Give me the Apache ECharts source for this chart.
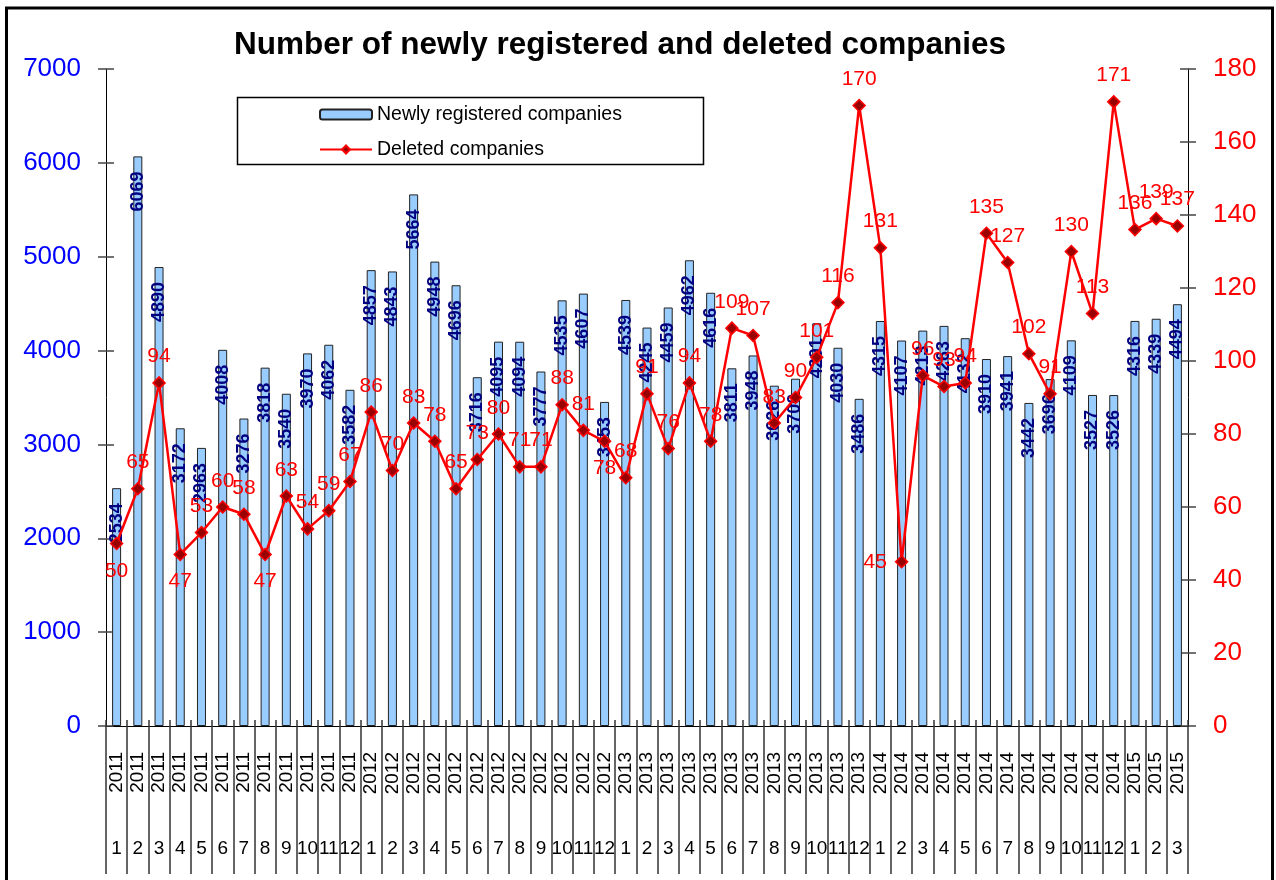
<!DOCTYPE html>
<html>
<head>
<meta charset="utf-8">
<script src="https://cdn.jsdelivr.net/npm/echarts@6/dist/echarts.min.js"></script>
<style>
html,body{margin:0;padding:0;background:#fff;overflow:hidden;}
#chart{width:1276px;height:880px;}
</style>
</head>
<body>
<div id="chart"></div>
<script>
// ---- data ----
const years  = ['2011','2011','2011','2011','2011','2011','2011','2011','2011','2011','2011','2011',
                '2012','2012','2012','2012','2012','2012','2012','2012','2012','2012','2012','2012',
                '2013','2013','2013','2013','2013','2013','2013','2013','2013','2013','2013','2013',
                '2014','2014','2014','2014','2014','2014','2014','2014','2014','2014','2014','2014',
                '2015','2015','2015'];
const months = ['1','2','3','4','5','6','7','8','9','10','11','12',
                '1','2','3','4','5','6','7','8','9','10','11','12',
                '1','2','3','4','5','6','7','8','9','10','11','12',
                '1','2','3','4','5','6','7','8','9','10','11','12',
                '1','2','3'];
const newlyRegistered = [2534,6069,4890,3172,2963,4008,3276,3818,3540,3970,4062,3582,
                         4857,4843,5664,4948,4696,3716,4095,4094,3777,4535,4607,3453,
                         4539,4245,4459,4962,4616,3811,3948,3626,3700,4291,4030,3486,
                         4315,4107,4213,4263,4132,3910,3941,3442,3696,4109,3527,3526,
                         4316,4339,4494];
const deleted = [50,65,94,47,53,60,58,47,63,54,59,67,
                 86,70,83,78,65,73,80,71,71,88,81,78,
                 68,91,76,94,78,109,107,83,90,101,116,170,
                 131,45,96,93,94,135,127,102,91,130,113,171,
                 136,139,137];
const leftTicks = [0,1000,2000,3000,4000,5000,6000,7000];
const rightTicks = [0,20,40,60,80,100,120,140,160,180];

const categories = years.map((y,i)=>y+'-'+months[i]);
const FONT = 'Liberation Sans, Arial, Helvetica, sans-serif';

// label placement tweaks (style only)
const belowIdx = [0,3,7,23];
const leftIdx = [37];
const lineData = deleted.map((v,i)=>{
  const o = {value:v};
  if (belowIdx.includes(i)) o.label = {position:'bottom', distance:10};
  if (leftIdx.includes(i)) o.label = {position:'left', distance:8};
  return o;
});

const chart = echarts.init(document.getElementById('chart'), null, {renderer:'canvas'});
const yBase = (pos, ticks, color, inside) => ({
  type:'value', position:pos, min:ticks[0], max:ticks[ticks.length-1],
  interval: ticks[1]-ticks[0],
  axisLine:{show:!inside, lineStyle:{color:'#000', width:1}},
  axisTick:{show:true, inside:inside, length:8, lineStyle:{color:'#444', width:1.5}},
  axisLabel:{show:!inside, color:color, fontSize:26, fontFamily:FONT, margin:25,
    formatter:(v)=>String(v)},
  splitLine:{show:false}
});
const option = {
  animation:false,
  backgroundColor:'#fff',
  title:{
    text:'Number of newly registered and deleted companies',
    left:229, top:24,
    textStyle:{fontSize:31.5, fontWeight:'bold', color:'#000', fontFamily:FONT}
  },
  legend:{
    orient:'vertical', left:314, top:99,
    itemWidth:52, itemHeight:10, itemGap:14,
    textStyle:{fontSize:19.5, color:'#000', fontFamily:FONT, lineHeight:21},
    data:['Newly registered companies','Deleted companies']
  },
  grid:{left:106, right:88, top:69, bottom:154, containLabel:false},
  xAxis:[
    {type:'category', data:categories, position:'bottom', offset:0,
     axisLine:{show:true, lineStyle:{color:'#000', width:1}},
     axisTick:{show:true, interval:0, length:148, lineStyle:{color:'#333', width:1.5}},
     axisLabel:{interval:0, rotate:90, fontSize:19, color:'#000', fontFamily:FONT, margin:26,
       formatter:(v)=>v.split('-')[0]}
    },
    {type:'category', data:categories, position:'bottom', offset:0,
     axisLine:{show:false},
     axisTick:{show:true, inside:true, interval:0, length:6, lineStyle:{color:'#333', width:1.5}},
     axisLabel:{interval:0, fontSize:19, color:'#000', fontFamily:FONT, margin:113, hideOverlap:false,
       formatter:(v)=>v.split('-')[1]}
    }
  ],
  yAxis:[
    yBase('left',leftTicks,'#0000FF',false),
    yBase('right',rightTicks,'#FF0000',false),
    yBase('left',leftTicks,'#0000FF',true),
    yBase('right',rightTicks,'#FF0000',true)
  ],
  graphic:[
    {type:'rect', shape:{x:6.5, y:8, width:1266, height:900}, style:{fill:'none', stroke:'#000', lineWidth:3}, silent:true, z:100},
    {type:'rect', shape:{x:237.5, y:97.5, width:466, height:67}, style:{fill:'none', stroke:'#000', lineWidth:1.5}, silent:true, z:100}
  ],
  series:[
    {name:'Newly registered companies', type:'bar', xAxisIndex:0, yAxisIndex:0,
     data:newlyRegistered, barWidth:9,
     itemStyle:{color:'#99CCFF', borderColor:'#222', borderWidth:1},
     label:{show:true, position:'insideTop', rotate:90, align:'right', verticalAlign:'middle', distance:15,
       color:'#000080', fontWeight:'bold', fontSize:18, fontFamily:FONT}
    },
    {name:'Deleted companies', type:'line', xAxisIndex:0, yAxisIndex:1,
     data:lineData, symbol:'diamond', symbolSize:12, z:5,
     lineStyle:{color:'#FF0000', width:2.5},
     itemStyle:{color:'#990000', borderColor:'#FF0000', borderWidth:1.5},
     label:{show:true, position:'top', distance:9, color:'#FF0000', fontSize:21, fontFamily:FONT}
    }
  ]
};
chart.setOption(option);
</script>
</body>
</html>
